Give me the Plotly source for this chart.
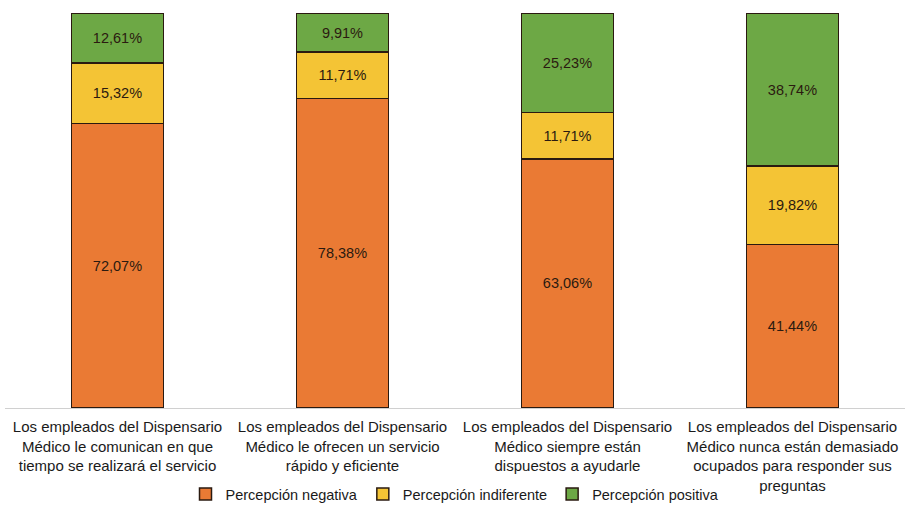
import plotly.graph_objects as go

categories = [
    "Los empleados del Dispensario<br>Médico le comunican en que<br>tiempo se realizará el servicio",
    "Los empleados del Dispensario<br>Médico le ofrecen un servicio<br>rápido y eficiente",
    "Los empleados del Dispensario<br>Médico siempre están<br>dispuestos a ayudarle",
    "Los empleados del Dispensario<br>Médico nunca están demasiado<br>ocupados para responder sus<br>preguntas",
]
negativa = [72.07, 78.38, 63.06, 41.44]
indiferente = [15.32, 11.71, 11.71, 19.82]
positiva = [12.61, 9.91, 25.23, 38.74]

series = [
    ("Percepción negativa", negativa, "#EA7A34"),
    ("Percepción indiferente", indiferente, "#F4C435"),
    ("Percepción positiva", positiva, "#6DA845"),
]

FONT = "Liberation Sans, Arial, sans-serif"

fig = go.Figure()
for name, vals, color in series:
    fig.add_trace(go.Bar(
        x=categories, y=vals, name=name,
        marker=dict(color=color, line=dict(color="#2a1a10", width=1.5)),
        width=0.41,
        texttemplate="%{y:.2f}%",
        textposition="inside",
        insidetextanchor="middle",
        textfont=dict(family=FONT, size=14.5, color="#2b1a10"),
        hoverinfo="skip",
    ))

fig.update_layout(
    barmode="stack",
    width=909, height=508,
    margin=dict(l=5, r=4, t=13, b=100, autoexpand=False),
    paper_bgcolor="white", plot_bgcolor="white",
    separators=",.",
    font=dict(family=FONT, size=15, color="#1a1a1a"),
    showlegend=True,
    legend=dict(
        orientation="h", x=0.5, xanchor="center", y=-0.218, yanchor="middle",
        font=dict(size=14.5), itemwidth=30, traceorder="normal",
    ),
    uniformtext=dict(mode="show", minsize=10),
)
fig.update_xaxes(showline=True, linecolor="#d0d0d0", linewidth=1, ticks="",
                 automargin=False, ticklabelstandoff=5,
                 tickfont=dict(size=15, color="#1a1a1a"))
fig.update_yaxes(range=[0, 100], visible=False, showgrid=False, automargin=False)

fig.write_html("out.html")
